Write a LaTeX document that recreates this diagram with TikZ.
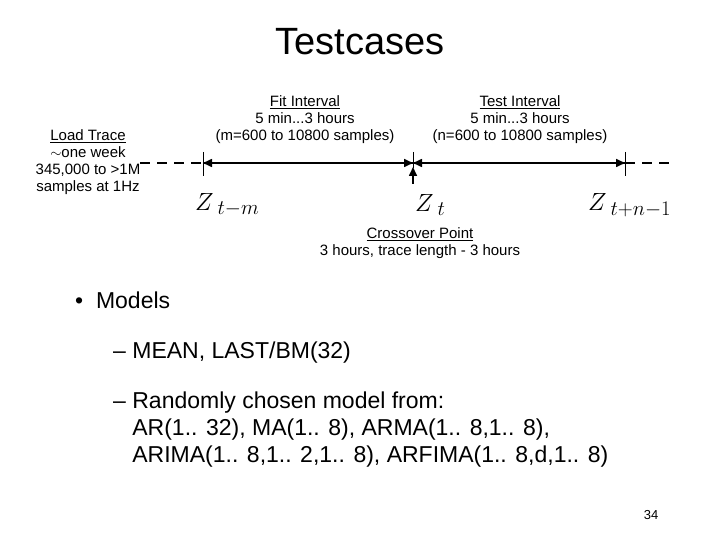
\documentclass[tikz,border=0pt]{standalone}
\usepackage{fontspec}
\setmainfont{Liberation Sans}
\usetikzlibrary{arrows.meta}
\begin{document}
\begin{tikzpicture}[x=1pt,y=-1pt,
  lbl/.style={font=\fontsize{15}{17}\selectfont,align=center,inner sep=0pt},
  zlab/.style={font=\fontsize{30}{30}\selectfont,anchor=west,inner sep=0pt},
  item/.style={font=\fontsize{23}{27}\selectfont,anchor=west,inner sep=0pt},
  tip/.style={-{Triangle[length=9pt,width=8pt]}},
  thick line/.style={line width=1.6pt}]
\useasboundingbox (0,0) rectangle (720,540);
\node[font=\fontsize{38}{40}\selectfont,inner sep=0pt] (title) at (360,42) {Testcases};
% timeline points
\coordinate (a0) at (140,163);
\coordinate (fit) at (203,163);
\coordinate (cross) at (413,163);
\coordinate (test) at (625,163);
\coordinate (a1) at (675,163);
\draw[thick line,dashed,dash pattern=on 10pt off 7pt] (a0) -- (fit);
\draw[thick line,dashed,dash pattern=on 10pt off 7pt] (test) -- (a1);
\draw[thick line] (fit) -- (test);
\draw[thick line,tip] (cross) -- (fit);
\draw[thick line,tip] (fit) -- (cross);
\draw[thick line,tip] (test) -- (cross);
\draw[thick line,tip] (cross) -- (test);
\draw[thin] (203,152) -- (203,176) (625,152) -- (625,176) (413,152) -- (413,168);
\coordinate (cb) at (413,184);
\draw[thick line,tip] (cb) -- (413,167);
\node[lbl] (fitl) at (305,120) {\underline{Fit Interval}\\5 min...3 hours\\(m=600 to 10800 samples)};
\node[lbl] (testl) at (520,120) {\underline{Test Interval}\\5 min...3 hours\\(n=600 to 10800 samples)};
\node[lbl] (load) at (88,162) {\underline{Load Trace}\\$\sim$one week\\345,000 to >1M\\samples at 1Hz};
\node[lbl] (crossl) at (420,243) {\underline{Crossover Point}\\3 hours, trace length - 3 hours};
\node[zlab] (z1) at (195,205) {$Z_{\;t-m}$};
\node[zlab] (z2) at (415,205) {$Z_{\;t}$};
\node[zlab] (z3) at (588,205) {$Z_{\;t+n-1}$};
\node[item] (b1) at (75,300) {\textbullet\ \ Models};
\node[item] (b2) at (113,353) {– MEAN, LAST/BM(32)};
\node[item,align=left,anchor=north west] (b3) at (113,392) {– Randomly chosen model from:\\\hphantom{– }AR(1.. 32), MA(1.. 8), ARMA(1.. 8,1.. 8),\\\hphantom{– }ARIMA(1.. 8,1.. 2,1.. 8), ARFIMA(1.. 8,d,1.. 8)};
\node[font=\fontsize{13}{15}\selectfont] (pg) at (651,515) {34};
\end{tikzpicture}
\end{document}
